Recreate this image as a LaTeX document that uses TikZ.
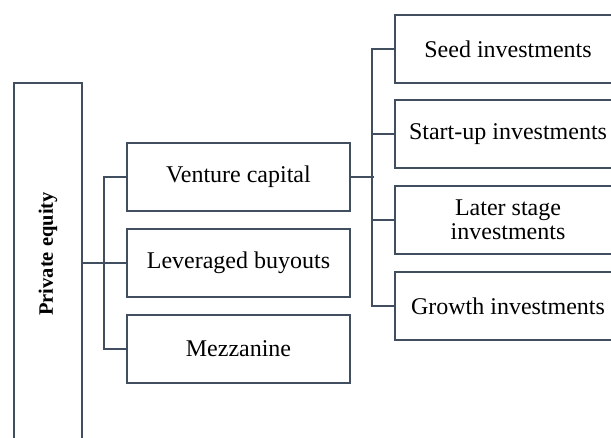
\documentclass[tikz,border=0pt]{standalone}
\usepackage{fontspec}
\setmainfont{Liberation Serif}
\definecolor{lc}{RGB}{64,78,96}
\begin{document}
\begin{tikzpicture}[x=1pt,y=-1pt,
  box/.style={draw=lc, line width=2pt, minimum height=68pt, inner sep=0pt, align=center, font=\fontsize{24}{24}\selectfont},
  midbox/.style={box, minimum width=223pt},
  rbox/.style={box, minimum width=226pt},
  conn/.style={draw=lc, line width=2pt}]
\useasboundingbox (0,0) rectangle (611,437);
\clip (0,0) rectangle (611,437);
\node[draw=lc, line width=2pt, minimum width=68pt, minimum height=377pt, inner sep=0pt] (pe) at (48,271.5) {};
\node[rotate=90, font=\fontsize{20.5}{24}\selectfont\bfseries] (pet) at (48,254) {Private equity};
\node[midbox] (vc) at (238.5,177) {Venture capital};
\node[midbox] (lb) at (238.5,263) {Leveraged buyouts};
\node[midbox] (mz) at (238.5,349) {Mezzanine};
\node[rbox] (sd) at (508,49) {Seed investments};
\node[rbox] (su) at (508,134) {Start-up investments};
\node[rbox] (ls) at (508,220) {Later stage\\investments};
\node[rbox] (gr) at (508,306) {Growth investments};
\draw[conn] (pe.east |- lb.west) -- (lb.west);
\draw[conn] (vc.west) -- ++(-22,0) |- (mz.west);
\draw[conn] (vc.east) -- ++(23,0);
\draw[conn] (sd.west) -- ++(-22,0) |- (gr.west);
\draw[conn] (su.west) -- ++(-22,0);
\draw[conn] (ls.west) -- ++(-22,0);
\end{tikzpicture}
\end{document}
